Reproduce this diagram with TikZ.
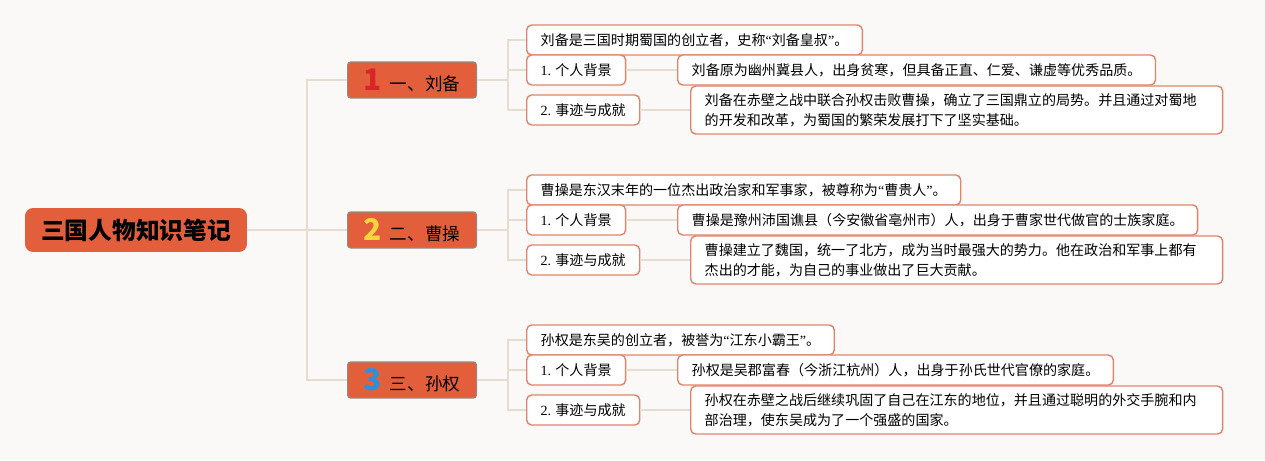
\documentclass[tikz,border=0pt]{standalone}
\usepackage{fontspec}
\setmainfont{Noto Sans CJK SC}
\newfontfamily\latinfont{Liberation Serif}
\usepackage{xcolor}
\usetikzlibrary{positioning}
\definecolor{paper}{HTML}{FAF9F8}
\definecolor{mainorange}{HTML}{E35F3C}
\definecolor{topicgray}{HTML}{8C8C80}
\definecolor{noteline}{HTML}{E0856C}
\definecolor{linkbeige}{HTML}{E6DCCF}
\definecolor{numred}{HTML}{D9252A}
\definecolor{numyellow}{HTML}{F7D43C}
\definecolor{numblue}{HTML}{2F8FD8}
\newcommand\topicnum[2]{{\color{#1}\fontsize{17}{17}\selectfont\bfseries #2}\hspace{0.16cm}}
\newcommand\openq{{\latinfont “}}
\newcommand\closeq{{\latinfont ”}}

\begin{document}
\begin{tikzpicture}[x=0.02cm, y=-0.02cm,
    root style/.style={
        fill=mainorange, rounded corners=0.16cm,
        minimum width=4.44cm, minimum height=0.88cm, inner sep=0pt,
        font=\fontsize{13.5}{16}\selectfont\bfseries
    },
    topic style/.style={
        fill=mainorange, draw=topicgray, line width=0.6pt, rounded corners=0.06cm,
        minimum width=2.58cm, minimum height=0.72cm, inner sep=0pt, anchor=west,
        font=\fontsize{10}{12}\selectfont
    },
    note style/.style={
        fill=white, draw=noteline, line width=0.8pt, rounded corners=0.1cm,
        inner xsep=0.28cm, inner ysep=0pt, minimum height=0.6cm,
        anchor=west, align=left, font=\fontsize{8}{11.4}\selectfont
    },
    long note/.style={note style, minimum height=0.96cm, text width=10.08cm},
    link/.style={draw=linkbeige, line width=1.2pt}
]
	\fill[paper] (0,0) rectangle (1265,460);
	\useasboundingbox (0,0) rectangle (1265,460);

	\node[root style] (root) at (136,230) {三国人物知识笔记};

	% 刘备
	\node[topic style] (liu) at (347,80) {\topicnum{numred}{1}一、刘备};
	\node[note style] (liu0) at (526,40) {刘备是三国时期蜀国的创立者，史称\openq 刘备皇叔\closeq 。};
	\node[note style] (liu1) at (526,70) {{\latinfont 1.} 个人背景};
	\node[note style] (liu2) at (526,110) {{\latinfont 2.} 事迹与成就};
	\node[note style] (liu1d) at (677,70) {刘备原为幽州冀县人，出身贫寒，但具备正直、仁爱、谦虚等优秀品质。};
	\node[long note] (liu2d) at (690,110) {刘备在赤壁之战中联合孙权击败曹操，确立了三国鼎立的局势。并且通过对蜀地\\的开发和改革，为蜀国的繁荣发展打下了坚实基础。};

	% 曹操
	\node[topic style] (cao) at (347,230) {\topicnum{numyellow}{2}二、曹操};
	\node[note style] (cao0) at (526,190) {曹操是东汉末年的一位杰出政治家和军事家，被尊称为\openq 曹贵人\closeq 。};
	\node[note style] (cao1) at (526,220) {{\latinfont 1.} 个人背景};
	\node[note style] (cao2) at (526,260) {{\latinfont 2.} 事迹与成就};
	\node[note style] (cao1d) at (677,220) {曹操是豫州沛国谯县（今安徽省亳州市）人，出身于曹家世代做官的士族家庭。};
	\node[long note] (cao2d) at (690,260) {曹操建立了魏国，统一了北方，成为当时最强大的势力。他在政治和军事上都有\\杰出的才能，为自己的事业做出了巨大贡献。};

	% 孙权
	\node[topic style] (sun) at (347,380) {\topicnum{numblue}{3}三、孙权};
	\node[note style] (sun0) at (526,340) {孙权是东吴的创立者，被誉为\openq 江东小霸王\closeq 。};
	\node[note style] (sun1) at (526,370) {{\latinfont 1.} 个人背景};
	\node[note style] (sun2) at (526,410) {{\latinfont 2.} 事迹与成就};
	\node[note style] (sun1d) at (677,370) {孙权是吴郡富春（今浙江杭州）人，出身于孙氏世代官僚的家庭。};
	\node[long note] (sun2d) at (690,410) {孙权在赤壁之战后继续巩固了自己在江东的地位，并且通过聪明的外交手腕和内\\部治理，使东吴成为了一个强盛的国家。};

	\draw[link] (root.east) -- ++(60,0) |- (liu.west);
	\draw[link] (root.east) -- ++(60,0) |- (cao.west);
	\draw[link] (root.east) -- ++(60,0) |- (sun.west);

	\draw[link] (liu.east) -- ++(31,0) |- (liu0.west);
	\draw[link] (liu.east) -- ++(31,0) |- (liu1.west);
	\draw[link] (liu.east) -- ++(31,0) |- (liu2.west);
	\draw[link] (liu1) -- (liu1d);
	\draw[link] (liu2) -- (liu2d);

	\draw[link] (cao.east) -- ++(31,0) |- (cao0.west);
	\draw[link] (cao.east) -- ++(31,0) |- (cao1.west);
	\draw[link] (cao.east) -- ++(31,0) |- (cao2.west);
	\draw[link] (cao1) -- (cao1d);
	\draw[link] (cao2) -- (cao2d);

	\draw[link] (sun.east) -- ++(31,0) |- (sun0.west);
	\draw[link] (sun.east) -- ++(31,0) |- (sun1.west);
	\draw[link] (sun.east) -- ++(31,0) |- (sun2.west);
	\draw[link] (sun1) -- (sun1d);
	\draw[link] (sun2) -- (sun2d);
\end{tikzpicture}
\end{document}
